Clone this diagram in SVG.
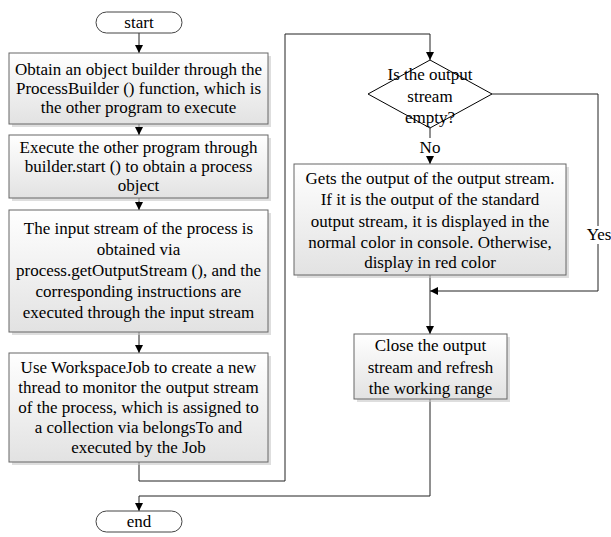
<svg xmlns="http://www.w3.org/2000/svg" width="611" height="537" viewBox="0 0 611 537">
<defs>
<linearGradient id="g" x1="0" y1="0" x2="0" y2="1">
<stop offset="0" stop-color="#ffffff"/>
<stop offset="1" stop-color="#e2e2e2"/>
</linearGradient>
<marker id="ah" viewBox="0 0 10 10" refX="10" refY="5" markerWidth="8" markerHeight="8" markerUnits="userSpaceOnUse" orient="auto">
<path d="M0,0 L10,5 L0,10 z" fill="#000"/>
</marker>
</defs>
<style>
text{font-family:"Liberation Serif","Times New Roman",serif;font-size:17px;fill:#000;text-anchor:middle}
.box{fill:url(#g);stroke:#666;stroke-width:1}
.sh{fill:#c8c8c8;opacity:0.6}
.term{fill:#fff;stroke:#444;stroke-width:1}
.dia{fill:#fff;stroke:#000;stroke-width:1}
.c{fill:none;stroke:#222;stroke-width:1}
.lbl{fill:#fff}
</style>
<rect width="611" height="537" fill="#fff"/>
<g id="connectors">
<path class="c" d="M139,33 V53" marker-end="url(#ah)"/>
<path class="c" d="M139,124 V135" marker-end="url(#ah)"/>
<path class="c" d="M139,198 V210" marker-end="url(#ah)"/>
<path class="c" d="M139,332 V353" marker-end="url(#ah)"/>
<path class="c" d="M139,462 V481 H285 V34 H430 V60" marker-end="url(#ah)"/>
<path class="c" d="M430,128 V164" marker-end="url(#ah)"/>
<path class="c" d="M492,94 H598 V291 H430" marker-end="url(#ah)"/>
<path class="c" d="M430,275 V334" marker-end="url(#ah)"/>
<path class="c" d="M430,399 V496 H139 V511" marker-end="url(#ah)"/>
<rect class="lbl" x="419" y="138" width="22" height="18"/>
<text x="430" y="153">No</text>
<rect class="lbl" x="586" y="226" width="25" height="18"/>
<text x="599" y="240">Yes</text>
</g>
<g id="start">
<rect class="term" x="96" y="12" width="86" height="21" rx="10.5"/>
<text x="139" y="28">start</text>
</g>
<g id="box1">
<rect class="sh" x="12" y="56" width="259" height="71"/>
<rect class="box" x="9" y="53" width="259" height="71"/>
<text x="138.5" y="75">Obtain an object builder through the</text>
<text x="138.5" y="94">ProcessBuilder () function, which is</text>
<text x="138.5" y="113">the other program to execute</text>
</g>
<g id="box2">
<rect class="sh" x="12" y="138" width="259" height="63"/>
<rect class="box" x="9" y="135" width="259" height="63"/>
<text x="138.5" y="153">Execute the other program through</text>
<text x="138.5" y="172">builder.start () to obtain a process</text>
<text x="138.5" y="191">object</text>
</g>
<g id="box3">
<rect class="sh" x="12" y="213" width="259" height="122"/>
<rect class="box" x="9" y="210" width="259" height="122"/>
<text x="138.5" y="234">The input stream of the process is</text>
<text x="138.5" y="255">obtained via</text>
<text x="138.5" y="276">process.getOutputStream (), and the</text>
<text x="138.5" y="297">corresponding instructions are</text>
<text x="138.5" y="318">executed through the input stream</text>
</g>
<g id="box4">
<rect class="sh" x="12" y="356" width="259" height="109"/>
<rect class="box" x="9" y="353" width="259" height="109"/>
<text x="138.5" y="373">Use WorkspaceJob to create a new</text>
<text x="138.5" y="393">thread to monitor the output stream</text>
<text x="138.5" y="413">of the process, which is assigned to</text>
<text x="138.5" y="433">a collection via belongsTo and</text>
<text x="138.5" y="453">executed by the Job</text>
</g>
<g id="decision">
<polygon class="dia" points="430,60 492,94 430,128 368,94"/>
<text x="430" y="80">Is the output</text>
<text x="430" y="102">stream</text>
<text x="430" y="123">empty?</text>
</g>
<g id="box5">
<rect class="sh" x="297" y="167" width="272" height="111"/>
<rect class="box" x="294" y="164" width="272" height="111"/>
<text x="430" y="184">Gets the output of the output stream.</text>
<text x="430" y="205">If it is the output of the standard</text>
<text x="430" y="227">output stream, it is displayed in the</text>
<text x="430" y="248">normal color in console. Otherwise,</text>
<text x="430" y="268">display in red color</text>
</g>
<g id="box6">
<rect class="sh" x="357" y="337" width="153" height="65"/>
<rect class="box" x="354" y="334" width="153" height="65"/>
<text x="430.5" y="351">Close the output</text>
<text x="430.5" y="373">stream and refresh</text>
<text x="430.5" y="394">the working range</text>
</g>
<g id="end">
<rect class="term" x="96" y="511" width="86" height="21" rx="10.5"/>
<text x="139" y="527">end</text>
</g>
</svg>
